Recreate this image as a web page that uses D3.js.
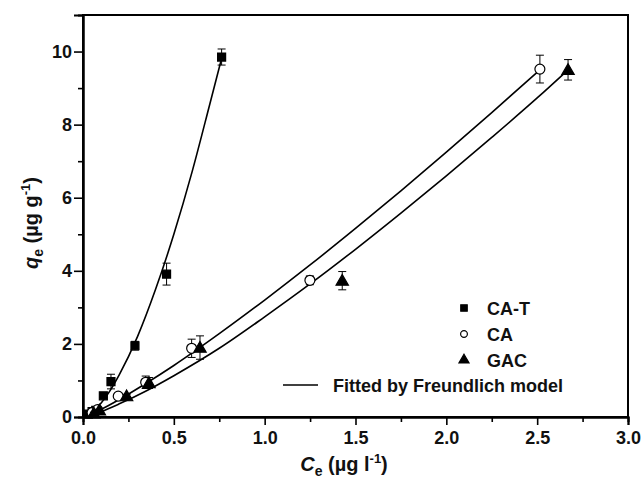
<!DOCTYPE html>
<html><head><meta charset="utf-8">
<script src="https://cdn.jsdelivr.net/npm/d3@7"></script>
<style>
body{margin:0;background:#fff;}
svg{display:block;font-family:"Liberation Sans",Arial,sans-serif;}
</style></head>
<body><svg id="c" width="642" height="479"></svg>
<script>
// ---- data ----
const seriesNames = ["CA-T", "CA", "GAC"];
const catX = [0.03, 0.05, 0.07, 0.112, 0.154, 0.286, 0.46, 0.763];
const catY = [0.08, 0.15, 0.18, 0.58, 0.97, 1.95, 3.91, 9.85];
const catE = [0.02, 0.03, 0.03, 0.05, 0.2, 0.12, 0.3, 0.22];
const caX = [0.05, 0.08, 0.194, 0.345, 0.598, 1.249, 2.515];
const caY = [0.12, 0.2, 0.57, 0.95, 1.88, 3.74, 9.52];
const caE = [0.03, 0.03, 0.05, 0.17, 0.25, 0.12, 0.38];
const gacX = [0.06, 0.09, 0.24, 0.363, 0.644, 1.427, 2.67];
const gacY = [0.1, 0.18, 0.57, 0.93, 1.9, 3.73, 9.5];
const gacE = [0.03, 0.03, 0.05, 0.15, 0.32, 0.25, 0.28];
// fitted curves
const fitCatX = [0.03, 0.05, 0.1, 0.15, 0.2, 0.3, 0.4, 0.5, 0.6, 0.7, 0.765];
const fitCatY = [0.06, 0.13, 0.38, 0.73, 1.16, 2.2, 3.5, 5.0, 6.7, 8.6, 9.85];
const fitCaX = [0.04, 0.1, 0.2, 0.35, 0.5, 0.75, 1.0, 1.25, 1.5, 1.75, 2.0, 2.25, 2.515];
const fitCaY = [0.07, 0.21, 0.48, 0.93, 1.41, 2.28, 3.2, 4.16, 5.16, 6.19, 7.25, 8.33, 9.5];
const fitGacX = [0.04, 0.1, 0.2, 0.35, 0.5, 0.75, 1.0, 1.25, 1.5, 1.75, 2.0, 2.25, 2.5, 2.67];
const fitGacY = [0.05, 0.15, 0.36, 0.72, 1.13, 1.88, 2.74, 3.64, 4.59, 5.58, 6.6, 7.65, 8.73, 9.5];
const xTicks = [0, 0.5, 1.0, 1.5, 2.0, 2.5, 3.0];
const xMinor = [0.25, 0.75, 1.25, 1.75, 2.25, 2.75];
const yTicks = [0, 2, 4, 6, 8, 10];
const yMinor = [1, 3, 5, 7, 9];
const fitLabel = "Fitted by Freundlich model";

// ---- layout ----
const L = 83, T = 15, R = 628, B = 417;
const svg = d3.select("#c");
const x = d3.scaleLinear().domain([0, 3]).range([L, R]);
const y = d3.scaleLinear().domain([0, 11]).range([B, T]);

// frame
svg.append("rect").attr("x", L).attr("y", T).attr("width", R - L).attr("height", B - T)
  .attr("fill", "none").attr("stroke", "#000").attr("stroke-width", 2);

// axes
const xAx = svg.append("g").attr("transform", `translate(0,${B})`)
  .call(d3.axisBottom(x).tickValues(xTicks).tickFormat(d3.format(".1f")).tickSize(8).tickPadding(6));
const xAxm = svg.append("g").attr("transform", `translate(0,${B})`)
  .call(d3.axisBottom(x).tickValues(xMinor).tickFormat("").tickSize(5));
const yAx = svg.append("g").attr("transform", `translate(${L},0)`)
  .call(d3.axisLeft(y).tickValues(yTicks).tickFormat(d3.format("d")).tickSize(9).tickPadding(2));
const yAxm = svg.append("g").attr("transform", `translate(${L},0)`)
  .call(d3.axisLeft(y).tickValues(yMinor).tickFormat("").tickSize(5));
[xAx, xAxm, yAx, yAxm].forEach(g => {
  g.select(".domain").attr("stroke-width", 2);
  g.selectAll(".tick line").attr("stroke-width", 1.6);
  g.selectAll("text").attr("font-size", 18).attr("font-weight", "bold").attr("fill", "#111")
    .attr("font-family", "Liberation Sans, Arial, sans-serif");
});

// fitted lines
const line = d3.line().x(d => x(d[0])).y(d => y(d[1])).curve(d3.curveMonotoneX);
[[fitCatX, fitCatY], [fitCaX, fitCaY], [fitGacX, fitGacY]].forEach(([xs, ys]) => {
  svg.append("path").datum(xs.map((v, i) => [v, ys[i]]))
    .attr("d", line).attr("fill", "none").attr("stroke", "#000").attr("stroke-width", 1.6);
});

// error bars + markers
const sym = {
  "CA-T": d3.symbol().type(d3.symbolSquare).size(64),
  "CA": d3.symbol().type(d3.symbolCircle).size(78),
  "GAC": d3.symbol().type(d3.symbolTriangle).size(66)
};
const fills = {"CA-T": "#000", "CA": "#fff", "GAC": "#000"};
const sets = [["CA-T", catX, catY, catE], ["CA", caX, caY, caE], ["GAC", gacX, gacY, gacE]];
sets.forEach(([name, xs, ys, es]) => {
  const g = svg.append("g");
  xs.forEach((xv, i) => {
    const cx = x(xv), y0 = y(ys[i] - es[i]), y1 = y(ys[i] + es[i]);
    g.append("line").attr("x1", cx).attr("x2", cx).attr("y1", y0).attr("y2", y1).attr("stroke", "#000").attr("stroke-width", 1);
    [y0, y1].forEach(yy => g.append("line").attr("x1", cx - 4).attr("x2", cx + 4).attr("y1", yy).attr("y2", yy).attr("stroke", "#000").attr("stroke-width", 1));
    g.append("path").attr("d", sym[name]()).attr("transform", `translate(${cx},${y(ys[i]) + (name === "GAC" ? 1 : 0)})`)
      .attr("fill", fills[name]).attr("stroke", "#000").attr("stroke-width", 1.2);
  });
});

// legend
const legY = [308, 334, 360];
const lsym = {
  "CA-T": d3.symbol().type(d3.symbolSquare).size(42),
  "CA": d3.symbol().type(d3.symbolCircle).size(36),
  "GAC": d3.symbol().type(d3.symbolTriangle).size(44)
};
seriesNames.forEach((n, i) => {
  svg.append("path").attr("d", lsym[n]()).attr("transform", `translate(464,${legY[i]})`)
    .attr("fill", fills[n]).attr("stroke", "#000").attr("stroke-width", 1.2);
  svg.append("text").attr("x", 487).attr("y", legY[i] + 6.5).text(n)
    .attr("font-size", 18).attr("font-weight", "bold").attr("fill", "#111");
});
svg.append("line").attr("x1", 283).attr("x2", 318).attr("y1", 385).attr("y2", 385).attr("stroke", "#000").attr("stroke-width", 1.6);
svg.append("text").attr("x", 333).attr("y", 392).text(fitLabel)
  .attr("font-size", 18).attr("font-weight", "bold").attr("fill", "#111");

// axis titles
const xt = svg.append("text").attr("x", 344).attr("y", 471).attr("text-anchor", "middle")
  .attr("font-size", 20).attr("font-weight", "bold").attr("fill", "#111");
xt.append("tspan").attr("font-style", "italic").text("C");
xt.append("tspan").attr("font-size", 14).attr("dy", 5).text("e");
xt.append("tspan").attr("dy", -5).text(" (\u00b5g l");
xt.append("tspan").attr("font-size", 13).attr("dy", -8).text("-1");
xt.append("tspan").attr("dy", 8).text(")");

const yt = svg.append("text").attr("transform", "translate(38,223) rotate(-90)").attr("text-anchor", "middle")
  .attr("font-size", 20).attr("font-weight", "bold").attr("fill", "#111");
yt.append("tspan").attr("font-style", "italic").text("q");
yt.append("tspan").attr("font-size", 14).attr("dy", 5).text("e");
yt.append("tspan").attr("dy", -5).text(" (\u00b5g g");
yt.append("tspan").attr("font-size", 13).attr("dy", -8).text("-1");
yt.append("tspan").attr("dy", 8).text(")");
</script></body></html>
